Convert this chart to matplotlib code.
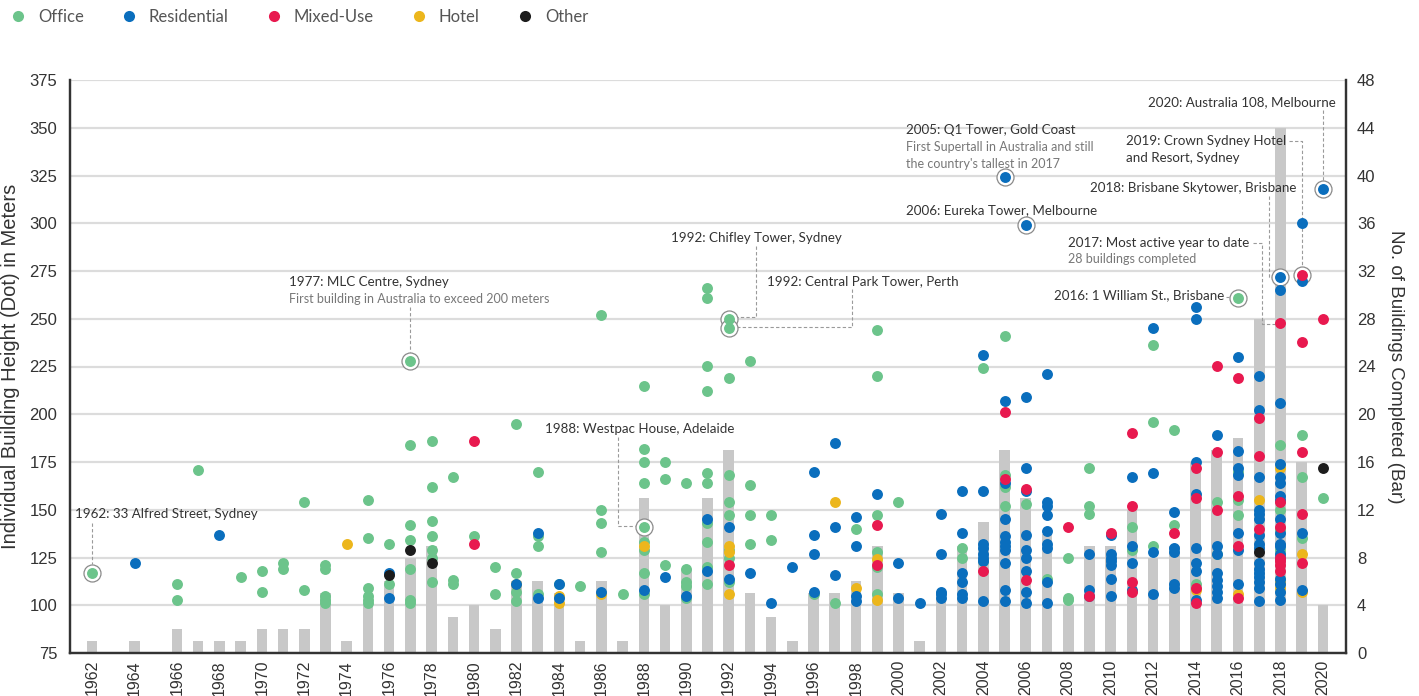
import matplotlib
matplotlib.use("Agg")
import matplotlib.pyplot as plt
from matplotlib.lines import Line2D

# Bars: number of buildings completed per year (right axis)
bar_years = [1962, 1964, 1966, 1967, 1968, 1969, 1970, 1971, 1972, 1973, 1974, 1975, 1976,
             1977, 1978, 1979, 1980, 1981, 1982, 1983, 1984, 1985, 1986, 1987, 1988, 1989,
             1990, 1991, 1992, 1993, 1994, 1995, 1996, 1997, 1998, 1999, 2000, 2001, 2002,
             2003, 2004, 2005, 2006, 2007, 2008, 2009, 2010, 2011, 2012, 2013, 2014, 2015,
             2016, 2017, 2018, 2019, 2020]
bar_counts = [1, 1, 2, 1, 1, 1, 2, 2, 2, 5, 1, 4, 6,
              8, 9, 3, 4, 2, 6, 6, 5, 1, 6, 1, 13, 4,
              7, 13, 17, 5, 3, 1, 5, 5, 6, 9, 5, 1, 5,
              9, 11, 17, 13, 10, 4, 9, 9, 12, 8, 9, 16, 17,
              18, 28, 44, 16, 4]

# Dots: individual building heights (left axis), by function
office = {
    1962: [117], 1966: [111, 103], 1967: [171], 1969: [115], 1970: [118, 107],
    1971: [122, 119], 1972: [154, 108], 1973: [121, 119, 105, 103, 101],
    1975: [155, 135, 109, 105, 103, 101], 1976: [132, 111],
    1977: [228, 184, 142, 134, 119, 103, 101], 1978: [186, 162, 144, 136, 129, 125, 112],
    1979: [167, 113, 111], 1980: [136], 1981: [120, 106], 1982: [195, 117, 107, 102],
    1983: [170, 136, 131, 106], 1984: [111], 1985: [110], 1986: [252, 150, 143, 128],
    1987: [106], 1988: [215, 182, 175, 164, 141, 133, 129, 117, 106],
    1989: [175, 166, 121], 1990: [164, 119, 112, 110, 104],
    1991: [266, 261, 225, 212, 169, 164, 143, 133, 120, 111],
    1992: [250, 245, 219, 168, 154, 147, 129, 125, 112], 1993: [228, 163, 147, 132],
    1994: [147, 134], 1996: [106], 1997: [101], 1998: [140],
    1999: [244, 220, 147, 128, 120, 106], 2000: [154], 2003: [130, 125], 2004: [224, 123],
    2005: [241, 168, 162, 152], 2006: [153], 2007: [114], 2008: [125, 104, 103],
    2009: [172, 152, 148], 2011: [141, 129], 2012: [236, 196, 131], 2013: [192, 142],
    2014: [111], 2015: [154, 127], 2016: [261, 170, 155, 147],
    2018: [184, 150, 140, 129, 114], 2019: [189, 167, 135], 2020: [156],
}
office_x = [y for y, v in office.items() for _ in v]
office_h = [h for v in office.values() for h in v]

residential = {
    1964: [122], 1968: [137], 1976: [117, 104], 1982: [111], 1983: [138, 104],
    1984: [111, 104], 1986: [107], 1988: [108], 1989: [115], 1990: [105],
    1991: [145, 118], 1992: [141, 114], 1993: [117], 1994: [101], 1995: [120],
    1996: [170, 137, 127, 107], 1997: [185, 141, 116], 1998: [146, 131, 105, 102],
    1999: [158], 2000: [122, 104], 2001: [101], 2002: [148, 127, 107, 106, 104],
    2003: [160, 138, 117, 112, 106, 104], 2004: [231, 160, 132, 130, 127, 125, 123, 102],
    2005: [324, 207, 164, 145, 136, 133, 131, 129, 122, 108, 102],
    2006: [299, 209, 172, 160, 137, 129, 125, 118, 107, 101],
    2007: [221, 154, 152, 147, 139, 132, 130, 112, 101], 2009: [127, 108, 105],
    2010: [137, 127, 125, 123, 121, 114, 105], 2011: [167, 131, 122, 108],
    2012: [245, 169, 128, 106], 2013: [149, 130, 128, 111, 109],
    2014: [256, 250, 175, 158, 130, 122, 118, 103],
    2015: [189, 131, 127, 117, 113, 110, 107, 104],
    2016: [230, 181, 172, 168, 138, 129, 111],
    2017: [220, 202, 167, 150, 148, 145, 137, 132, 130, 122, 119, 117, 115, 112, 109, 102],
    2018: [272, 265, 206, 174, 167, 164, 157, 155, 145, 138, 132, 131, 127, 125, 114, 111,
           107, 103],
    2019: [300, 270, 138, 108], 2020: [318],
}
residential_x = [y for y, v in residential.items() for _ in v]
residential_h = [h for v in residential.values() for h in v]

mixed = {
    1980: [186, 132], 1992: [121], 1999: [142, 121], 2004: [118], 2005: [201, 166],
    2006: [161, 113], 2008: [141], 2009: [105], 2010: [138], 2011: [190, 152, 112, 107],
    2013: [138], 2014: [172, 156, 109, 101], 2015: [225, 180, 150],
    2016: [219, 157, 131, 104], 2017: [198, 178, 140],
    2018: [248, 154, 141, 125, 123, 121, 118], 2019: [273, 238, 180, 148, 122], 2020: [250],
}
mixed_x = [y for y, v in mixed.items() for _ in v]
mixed_h = [h for v in mixed.values() for h in v]

hotel = {
    1974: [132], 1982: [111], 1984: [105, 101], 1986: [106], 1988: [131],
    1992: [131, 128, 106], 1997: [154], 1998: [109], 1999: [124, 103], 2014: [108],
    2016: [106], 2017: [155], 2018: [172, 112, 109], 2019: [127, 107],
}
hotel_x = [y for y, v in hotel.items() for _ in v]
hotel_h = [h for v in hotel.values() for h in v]

other_x = [1976, 1977, 1978, 2017, 2020]
other_h = [116, 129, 122, 128, 172]

# highlighted (annotated) buildings
hl_x = [1962, 1977, 1988, 1992, 1992, 2005, 2006, 2016, 2018, 2019, 2020]
hl_h = [117, 228, 141, 250, 245, 324, 299, 261, 272, 273, 318]

c_office = '#6cc48b'
c_res = '#0a6ebd'
c_mixed = '#e8194f'
c_hotel = '#ecb61c'
c_other = '#1c1c1c'
c_bar = '#c8c8c8'
c_axis = '#333333'

plt.rcParams['font.family'] = 'Liberation Sans'

fig = plt.figure(figsize=(14.19, 6.96), dpi=100)
ax = fig.add_axes([70 / 1419, 1 - 653 / 696, (1346 - 70) / 1419, (653 - 80) / 696])
ax2 = ax.twinx()
ax.set_zorder(ax2.get_zorder() + 1)
ax.patch.set_visible(False)

# bars + grid on the right axis
ax2.bar(bar_years, bar_counts, width=0.5, color=c_bar, zorder=2)
ax2.set_ylim(0, 48)
ax2.set_yticks(range(0, 49, 4))
ax2.yaxis.grid(True, color='#dcdcdc', lw=1.6, zorder=0)
ax2.set_axisbelow(True)

ax.set_xlim(1960.96, 2021.09)
ax.set_ylim(75, 375)
ax.set_yticks(range(75, 376, 25))
ax.set_xticks(range(1962, 2021, 2))
ax.tick_params(axis='x', labelrotation=90)

s_dot = 62
ax.scatter(hl_x, hl_h, s=150, facecolor='white', edgecolor='#8a8a8a', lw=0.9, zorder=3)
ax.scatter(office_x, office_h, s=s_dot, color=c_office, lw=0, zorder=4)
ax.scatter(hotel_x, hotel_h, s=s_dot, color=c_hotel, lw=0, zorder=4)
ax.scatter(residential_x, residential_h, s=s_dot, color=c_res, lw=0, zorder=5)
ax.scatter(mixed_x, mixed_h, s=s_dot, color=c_mixed, lw=0, zorder=5)
ax.scatter(other_x, other_h, s=s_dot, color=c_other, lw=0, zorder=5)

# spines and ticks
for a in (ax, ax2):
    a.spines['top'].set_visible(False)
    for side in ('left', 'right', 'bottom'):
        a.spines[side].set_color(c_axis)
        a.spines[side].set_linewidth(1.6)
ax.tick_params(axis='both', length=0, labelsize=12, colors=c_axis, pad=9)
ax.tick_params(axis='x', labelsize=11.5, pad=5)
ax2.tick_params(axis='y', length=0, labelsize=12, colors=c_axis, pad=8)

ax.set_ylabel('Individual Building Height (Dot) in Meters', fontsize=14.5, color=c_axis,
              labelpad=7)
ax2.set_ylabel('No. of Buildings Completed (Bar)', fontsize=13.5, color=c_axis, rotation=270,
               labelpad=20)

# annotations
ann_font = 'Lato'
t_col = '#333333'
s_col = '#777777'
lead = dict(color='#9a9a9a', lw=0.8, ls=(0, (3, 2)), zorder=2.5)

def note(x, y, txt, sub=None, sub_dy=8.8, size=9.6):
    ax.text(x, y, txt, fontsize=size, color=t_col, family=ann_font, va='center', ha='left')
    if sub:
        for i, line in enumerate(sub):
            ax.text(x, y - sub_dy * (i + 1), line, fontsize=9, color=s_col,
                    family=ann_font, va='center', ha='left')

note(1961.2, 147.8, '1962: 33 Alfred Street, Sydney')
ax.plot([1962, 1962], [143, 121.5], **lead)

note(1971.28, 269.2, '1977: MLC Centre, Sydney',
     ['First building in Australia to exceed 200 meters'])
ax.plot([1977, 1977], [256, 232.5], **lead)

note(1983.35, 192.3, '1988: Westpac House, Adelaide')
ax.plot([1986.8, 1986.8, 1987.6], [188, 141.5, 141.5], **lead)

note(1989.29, 292.3, '1992: Chifley Tower, Sydney')
ax.plot([1993.28, 1993.28, 1992.4], [288, 250.8, 250.8], **lead)

note(1993.81, 269.8, '1992: Central Park Tower, Perth')
ax.plot([1997.8, 1997.8, 1992.4], [265.5, 245.5, 245.5], **lead)

note(2000.36, 348.8, '2005: Q1 Tower, Gold Coast',
     ['First Supertall in Australia and still', "the country's tallest in 2017"])

note(2000.36, 306.9, '2006: Eureka Tower, Melbourne')

note(2007.33, 262.4, '2016: 1 William St., Brisbane')
ax.plot([2015.45, 2015.6], [261.5, 261.5], **lead)

note(2008.0, 289.9, '2017: Most active year to date', ['28 buildings completed'])
ax.plot([2016.7, 2017.12, 2017.12, 2017.75], [289.9, 289.9, 247.5, 247.5], **lead)

note(2009.03, 318.2, '2018: Brisbane Skytower, Brisbane')
ax.plot([2017.48, 2017.48, 2017.6], [314.5, 272, 272], **lead)

note(2010.73, 343.1, '2019: Crown Sydney Hotel')
ax.text(2010.73, 334.2, 'and Resort, Sydney', fontsize=9.6, color=t_col, family=ann_font,
        va='center', ha='left')
ax.plot([2018.4, 2019, 2019], [343.1, 343.1, 277.5], **lead)

note(2011.76, 363.5, '2020: Australia 108, Melbourne')
ax.plot([2020, 2020], [359.5, 322.5], **lead)

# legend
handles = [Line2D([], [], ls='', marker='o', ms=8, mew=0, color=c)
           for c in (c_office, c_res, c_mixed, c_hotel, c_other)]
fig.legend(handles, ['Office', 'Residential', 'Mixed-Use', 'Hotel', 'Other'],
           loc='center left', bbox_to_anchor=(3 / 1419, 1 - 17 / 696), ncol=5,
           frameon=False, borderpad=0, handlelength=0.8, handletextpad=0.8,
           columnspacing=2.3, prop={'family': ann_font, 'size': 12}, labelcolor='#555555')

fig.savefig('out.png', dpi=100, facecolor='white')
